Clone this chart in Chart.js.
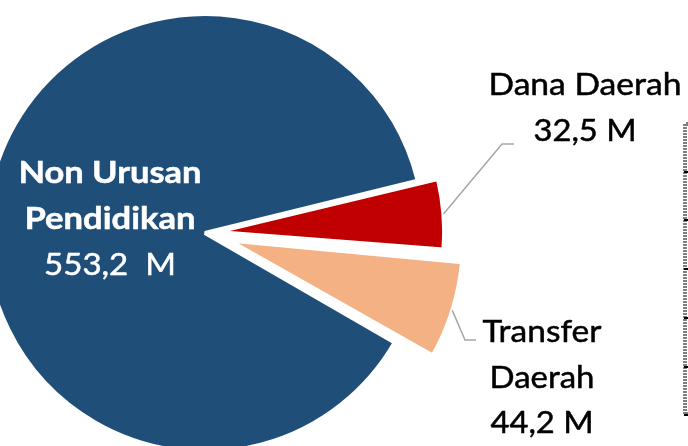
<!DOCTYPE html>
<html>
<head>
<meta charset="utf-8">
<script src="https://cdn.jsdelivr.net/npm/chart.js@4.4.1/dist/chart.umd.min.js"></script>
<style>
  html, body { margin: 0; padding: 0; overflow: hidden; background: #fff; }
  #wrap { position: absolute; left: 0; top: 0; width: 688px; height: 466px; }
</style>
</head>
<body>
<div id="wrap"><canvas id="pieChart" width="688" height="466"></canvas></div>
<script>
// Komposisi anggaran (dalam miliar rupiah)
const kategori = [['Non Urusan', 'Pendidikan'], ['Dana Daerah'], ['Transfer', 'Daerah']];
const nilai = [553.2, 32.5, 44.2];
const satuan = ['  M', ' M', ' M'];
const warna = ['#1f4e79', '#c00000', '#f4b183'];

// letak label (baseline baris pertama, tinggi baris, lebar tiap baris)
const posLabel = [
    { x: 110, y: 183, lh: 46, w: [183, 171, 132], color: '#ffffff', bold: [true, true, false] },
    { x: 585, y: 95, lh: 46, w: [193, 103], color: '#000000', bold: [false, false] },
    { x: 542, y: 342, lh: 45.5, w: [119, 105, 103], color: '#000000', bold: [false, false, false] }
];
// garis penunjuk: titik siku dan ujung
const garis = [null, [[502, 144], [514, 144]], [[465, 340], [476, 340]]];

function fmt(v, i) {
    return v.toFixed(1).replace('.', ',') + satuan[i];
}

function tulis(ctx, text, cx, base, w, bold) {
    ctx.font = (bold ? 'bold ' : '') + '31px Lato';
    const nat = ctx.measureText(text).width;
    ctx.save();
    ctx.translate(cx, base);
    ctx.scale(w / nat, 1);
    ctx.textAlign = 'center';
    ctx.textBaseline = 'alphabetic';
    ctx.fillText(text, 0, 0);
    // sedikit ditebalkan agar mirip huruf aslinya
    ctx.strokeStyle = ctx.fillStyle;
    ctx.lineWidth = 0.5;
    ctx.strokeText(text, 0, 0);
    ctx.restore();
}

const labelPlugin = {
    id: 'labelPlugin',
    afterDraw(chart) {
        const ctx = chart.ctx;
        const arcs = chart.getDatasetMeta(0).data;
        const ds = chart.data.datasets[0];

        // garis penunjuk
        ctx.save();
        ctx.strokeStyle = '#a6a6a6';
        ctx.lineWidth = 1.5;
        arcs.forEach((arc, i) => {
            if (!garis[i]) return;
            const p = arc.getProps(['x', 'y', 'startAngle', 'endAngle', 'outerRadius'], true);
            const mid = (p.startAngle + p.endAngle) / 2;
            const circ = p.endAngle - p.startAngle;
            const off = ds.offset[i] / 4;
            const t = off * (1 + (1 - Math.sin(Math.min(Math.PI, circ))));
            const r = p.outerRadius + t;
            ctx.beginPath();
            ctx.moveTo(p.x + Math.cos(mid) * r, p.y + Math.sin(mid) * r);
            garis[i].forEach(pt => ctx.lineTo(pt[0], pt[1]));
            ctx.stroke();
        });
        ctx.restore();

        // teks label
        ctx.save();
        kategori.forEach((baris, i) => {
            const L = posLabel[i];
            const lines = baris.concat([fmt(nilai[i], i)]);
            ctx.fillStyle = L.color;
            lines.forEach((s, j) => tulis(ctx, s, L.x, L.y + j * L.lh, L.w[j], L.bold[j]));
        });
        ctx.restore();

        // bingkai bertitik di tepi kanan
        ctx.save();
        ctx.strokeStyle = '#7f7f7f';
        ctx.lineWidth = 4;
        ctx.setLineDash([2, 1]);
        ctx.beginPath();
        ctx.moveTo(694, 124);
        ctx.lineTo(685, 124);
        ctx.lineTo(685, 414);
        ctx.lineTo(694, 414);
        ctx.stroke();
        ctx.setLineDash([]);
        ctx.strokeStyle = '#000000';
        ctx.lineWidth = 2;
        [172, 220, 269, 318, 367, 415].forEach(y => {
            ctx.beginPath();
            ctx.moveTo(684, y);
            ctx.lineTo(690, y);
            ctx.stroke();
        });
        ctx.restore();
    }
};

const pieCtx = document.getElementById('pieChart').getContext('2d');
new Chart(pieCtx, {
    type: 'pie',
    data: {
        labels: kategori.map(k => k.join(' ')),
        datasets: [{
            data: nilai,
            backgroundColor: warna,
            borderColor: '#ffffff',
            borderWidth: 4,
            offset: [0, 48, 102]
        }]
    },
    options: {
        responsive: false,
        animation: false,
        rotation: 120,
        radius: 219,
        layout: { padding: { left: 0, right: 278, top: 0, bottom: 0 } },
        plugins: {
            legend: { display: false },
            tooltip: { enabled: false }
        }
    },
    plugins: [labelPlugin]
});
</script>
</body>
</html>
